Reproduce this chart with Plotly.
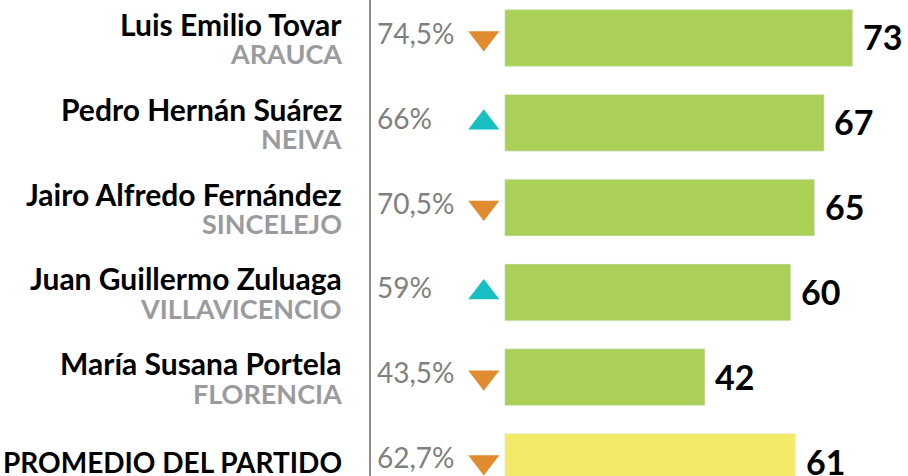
import plotly.graph_objects as go

names = ["Luis Emilio Tovar", "Pedro Hernán Suárez", "Jairo Alfredo Fernández",
         "Juan Guillermo Zuluaga", "María Susana Portela", "PROMEDIO DEL PARTIDO"]
cities = ["ARAUCA", "NEIVA", "SINCELEJO", "VILLAVICENCIO", "FLORENCIA", ""]
values = [73, 67, 65, 60, 42, 61]
previous = [74.5, 66, 70.5, 59, 43.5, 62.7]

GREEN = "#AAD058"
YELLOW = "#F3EA6A"
UP = "#17BFC2"
DOWN = "#E08B30"
FONT = "Lato"

rows = list(range(len(names)))
bar_colors = [YELLOW if n.startswith("PROMEDIO") else GREEN for n in names]

def fmt_pct(v):
    s = ("%.1f" % v).rstrip("0").rstrip(".")
    return s.replace(".", ",") + "%"

fig = go.Figure()
fig.add_trace(go.Bar(x=values, y=rows, orientation="h", marker_color=bar_colors,
                     width=0.67, hoverinfo="skip"))

up_rows = [r for r in rows if values[r] > previous[r]]
down_rows = [r for r in rows if values[r] <= previous[r]]
TRI_X = -4.4
fig.add_trace(go.Scatter(x=[TRI_X] * len(up_rows), y=up_rows, mode="markers",
                         marker=dict(symbol="triangle-up", size=27, color=UP), hoverinfo="skip"))
fig.add_trace(go.Scatter(x=[TRI_X] * len(down_rows), y=down_rows, mode="markers",
                         marker=dict(symbol="triangle-down", size=27, color=DOWN), hoverinfo="skip"))

NAME_X = 0.3785
ann = []
for r in rows:
    ann.append(dict(x=values[r], y=r, xref="x", yref="y", text=f"<b>{values[r]}</b>",
                    showarrow=False, xanchor="left", xshift=8, yshift=1,
                    font=dict(family=FONT, size=34, color="black")))
    ann.append(dict(x=0.4135, y=r, xref="paper", yref="y", text=fmt_pct(previous[r]),
                    showarrow=False, xanchor="left", yshift=5,
                    font=dict(family=FONT, size=28, color="#808080")))
    if cities[r]:
        ann.append(dict(x=NAME_X, y=r, xref="paper", yref="y", text=f"<b>{names[r]}</b>",
                        showarrow=False, xanchor="right", yshift=14,
                        font=dict(family=FONT, size=30, color="black")))
        ann.append(dict(x=NAME_X, y=r, xref="paper", yref="y", text=f"<b>{cities[r]}</b>",
                        showarrow=False, xanchor="right", yshift=-16,
                        font=dict(family=FONT, size=27, color="#9A9B9F")))
    else:
        ann.append(dict(x=NAME_X, y=r, xref="paper", yref="y", text=f"<b>{names[r]}</b>",
                        showarrow=False, xanchor="right", yshift=0,
                        font=dict(family=FONT, size=28, color="black")))

fig.update_layout(
    width=908, height=476, margin=dict(l=0, r=0, t=0, b=0),
    plot_bgcolor="white", paper_bgcolor="white", showlegend=False,
    annotations=ann, hovermode=False,
    shapes=[dict(type="line", xref="paper", yref="paper", x0=0.4075, x1=0.4075, y0=0, y1=1,
                 line=dict(color="#8C8C8C", width=2))],
)
fig.update_xaxes(range=[-105.9, 84.6], visible=False, fixedrange=True)
fig.update_yaxes(range=[5.165, -0.448], visible=False, fixedrange=True)
fig.write_html("out.html", config={"displayModeBar": False},
               post_script="document.body.style.margin='0';document.body.style.overflow='hidden';")
